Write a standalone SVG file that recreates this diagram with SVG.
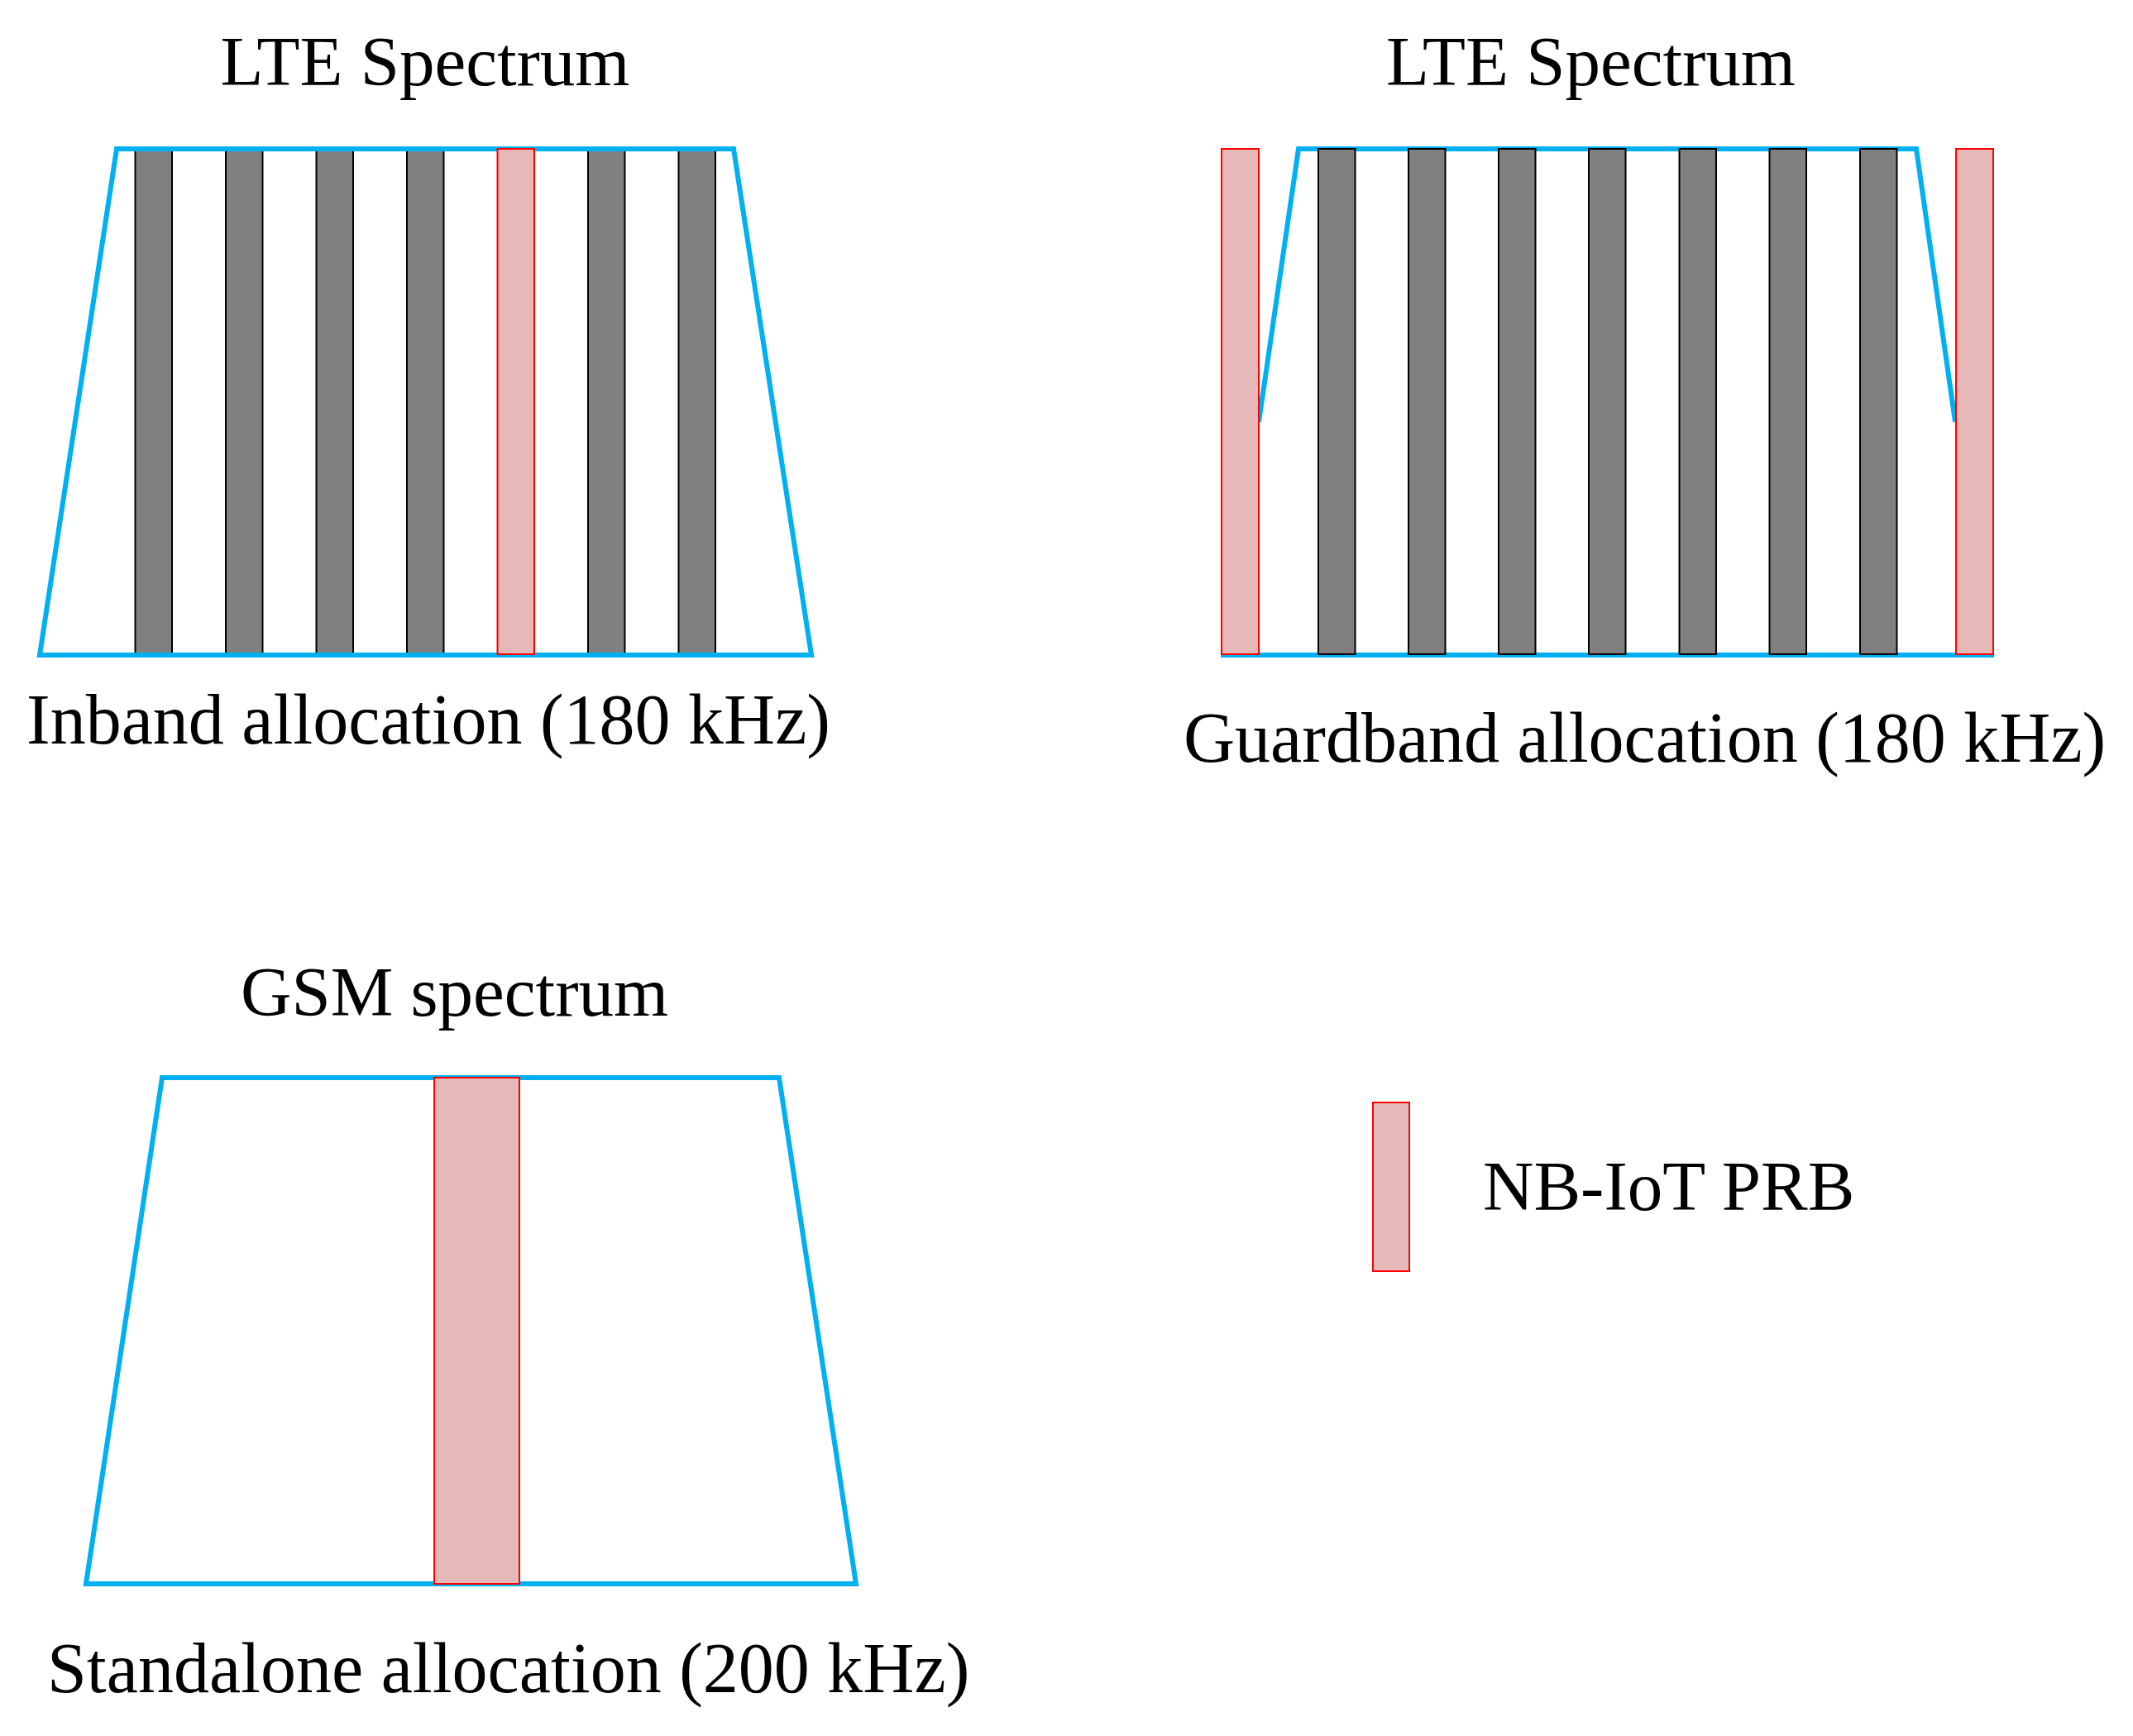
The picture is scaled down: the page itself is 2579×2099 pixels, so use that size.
<svg xmlns="http://www.w3.org/2000/svg" width="2579" height="2099" viewBox="0 0 2579 2099">
<style>
.band{fill:none;stroke:#00B0F0;stroke-width:6;stroke-linejoin:miter}
.rb{fill:#808080;stroke:#000;stroke-width:2}
.nb{fill:#E6B9B8;stroke:#FF0000;stroke-width:2}
.t{font-family:"Liberation Serif","Times New Roman",serif;fill:#000}
</style>
<rect width="2579" height="2099" fill="#fff"/>

<g id="inband">
  <text class="t" x="514" y="103" font-size="85" text-anchor="middle">LTE Spectrum</text>
  <g id="inband-prbs">
    <rect class="rb" x="163.5" y="180" width="44.5" height="611"/>
    <rect class="rb" x="273" y="180" width="44.5" height="611"/>
    <rect class="rb" x="382.5" y="180" width="44.5" height="611"/>
    <rect class="rb" x="492" y="180" width="44.5" height="611"/>
    <rect class="rb" x="711" y="180" width="44.5" height="611"/>
    <rect class="rb" x="820.5" y="180" width="44.5" height="611"/>
  </g>
  <polygon class="band" points="141,180 887,180 981,792 48,792"/>
  <rect class="nb" x="601.5" y="180" width="44.5" height="611"/>
  <text class="t" x="32" y="899" font-size="86">Inband allocation (180 kHz)</text>
</g>

<g id="guardband">
  <text class="t" x="1676" y="103" font-size="85">LTE Spectrum</text>
  <polyline class="band" points="1522,510 1570,180 2317,180 2364,510"/>
  <line class="band" x1="1476" y1="792" x2="2411" y2="792"/>
  <rect class="rb" x="1594" y="180" width="44.5" height="611"/>
  <rect class="rb" x="1703" y="180" width="44.5" height="611"/>
  <rect class="rb" x="1812" y="180" width="44.5" height="611"/>
  <rect class="rb" x="1921" y="180" width="44.5" height="611"/>
  <rect class="rb" x="2030.5" y="180" width="44.5" height="611"/>
  <rect class="rb" x="2139.5" y="180" width="44.5" height="611"/>
  <rect class="rb" x="2249" y="180" width="44.5" height="611"/>
  <rect class="nb" x="1477" y="180" width="45" height="611"/>
  <rect class="nb" x="2365" y="180" width="45" height="611"/>
  <text class="t" x="1431" y="921" font-size="86">Guardband allocation (180 kHz)</text>
</g>

<g id="standalone">
  <text class="t" x="291" y="1228" font-size="85">GSM spectrum</text>
  <polygon class="band" points="196,1303 942,1303 1035,1915 104,1915"/>
  <rect class="nb" x="525" y="1303" width="103" height="612"/>
  <text class="t" x="57" y="2046" font-size="86">Standalone allocation (200 kHz)</text>
</g>

<g id="legend">
  <rect class="nb" x="1660" y="1333" width="44" height="204"/>
  <text class="t" x="1793" y="1463" font-size="85">NB-IoT PRB</text>
</g>
</svg>
